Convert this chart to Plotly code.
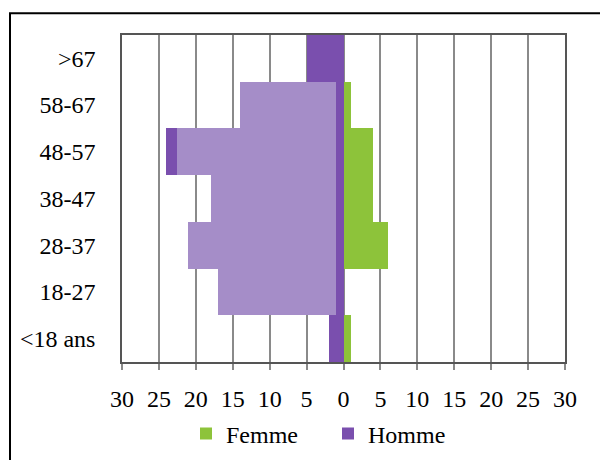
import plotly.graph_objects as go

categories = ["<18 ans", "18-27", "28-37", "38-47", "48-57", "58-67", ">67"]
femme = [1, 0, 6, 4, 4, 1, 0]
homme_base = [2, 1, 1, 1, 1, 1, 5]
homme_light = [0, 16, 20, 17, 21.5, 13, 0]
homme_tip = [0, 0, 0, 0, 1.5, 0, 0]
tick_vals = [-30, -25, -20, -15, -10, -5, 0, 5, 10, 15, 20, 25, 30]
tick_text = ["30", "25", "20", "15", "10", "5", "0", "5", "10", "15", "20", "25", "30"]

GREEN = "#8DC33A"
DARK = "#7A4FAE"
LIGHT = "#A58DC8"

fig = go.Figure()
fig.add_trace(go.Bar(y=categories, x=femme, orientation="h", name="Femme",
                     marker=dict(color=GREEN, line=dict(width=0))))
fig.add_trace(go.Bar(y=categories, x=[-v for v in homme_base], orientation="h", name="Homme",
                     marker=dict(color=DARK, line=dict(width=0))))
fig.add_trace(go.Bar(y=categories, x=[-v for v in homme_light], orientation="h", name="Homme ",
                     showlegend=False, marker=dict(color=LIGHT, line=dict(width=0))))
fig.add_trace(go.Bar(y=categories, x=[-v for v in homme_tip], orientation="h", name="Homme  ",
                     showlegend=False, marker=dict(color=DARK, line=dict(width=0))))

OFF = 8  # default page body margin
W, H = 608, 460
ml, mt = 114, 27
pw, ph = 443, 332
mr = W - ml - pw
mb = H - mt - ph

def px_x(p):
    return (p - OFF - ml) / pw

def px_y(p):
    return (OFF + mt + ph - p) / ph

SERIF = "Liberation Serif, Times New Roman, serif"

fig.update_layout(
    width=W, height=H,
    margin=dict(l=ml, r=mr, t=mt, b=mb),
    barmode="relative", bargap=0,
    paper_bgcolor="white", plot_bgcolor="white",
    font=dict(family=SERIF, size=24, color="black"),
    showlegend=True,
    legend=dict(orientation="h", x=px_x(186), xanchor="left", y=px_y(440), yanchor="middle",
                font=dict(family=SERIF, size=24), traceorder="normal",
                entrywidth=97, entrywidthmode="pixels",
                bgcolor="rgba(0,0,0,0)"),
    xaxis=dict(range=[-30, 30], tickvals=tick_vals, ticktext=tick_text,
               tickfont=dict(family=SERIF, size=24),
               showgrid=True, gridcolor="#8a8a8a", gridwidth=1.5, zeroline=False,
               showline=True, linecolor="#555555", linewidth=1.5, mirror=True,
               ticks="outside", ticklen=6, tickcolor="#8a8a8a", tickwidth=1.5,
               ticklabelstandoff=8, fixedrange=True),
    yaxis=dict(categoryorder="array", categoryarray=categories,
               tickfont=dict(family=SERIF, size=24),
               showgrid=False, zeroline=False,
               showline=True, linecolor="#555555", linewidth=1.5, mirror=True,
               ticks="", ticklabelstandoff=20, fixedrange=True),
    shapes=[dict(type="rect", xref="paper", yref="paper",
                 x0=px_x(10), x1=px_x(640), y0=px_y(500), y1=px_y(13),
                 line=dict(color="black", width=2), fillcolor="rgba(0,0,0,0)", layer="below")],
)

fig.write_html("out.html")
